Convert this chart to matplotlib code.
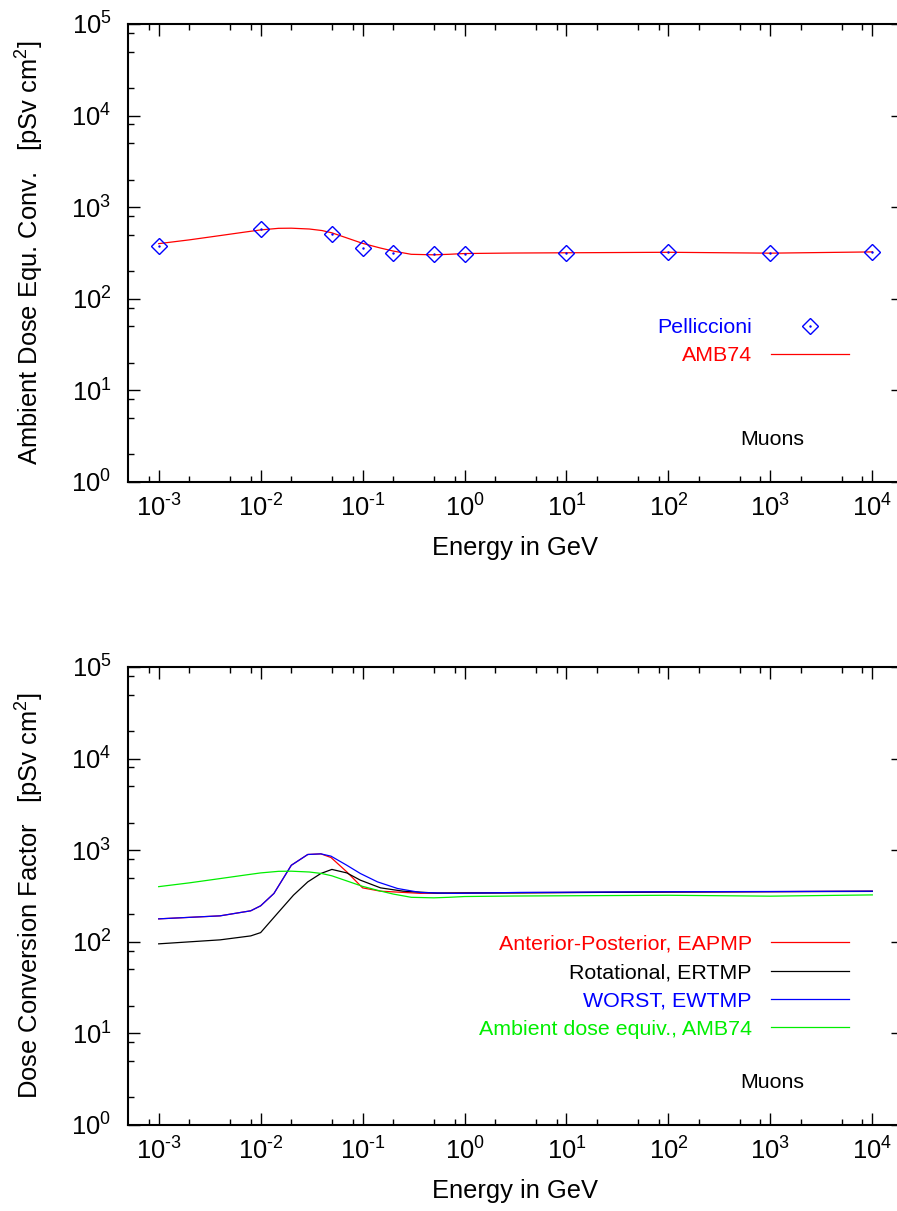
import numpy as np
import matplotlib
matplotlib.use('Agg')
import matplotlib.pyplot as plt
from matplotlib.ticker import FixedLocator, NullFormatter, FuncFormatter

plt.rcParams['font.family'] = ['Liberation Sans', 'DejaVu Sans']
plt.rcParams['mathtext.fontset'] = 'custom'
plt.rcParams['mathtext.rm'] = 'Liberation Sans'
plt.rcParams['mathtext.it'] = 'Liberation Sans:italic'
plt.rcParams['mathtext.default'] = 'regular'

# Pellicioni reference points (GeV, pSv cm2)
pell_e = [1e-3, 1e-2, 5e-2, 1e-1, 2e-1, 5e-1, 1, 10, 100, 1000, 10000]
pell_h = [378, 572, 509, 357, 319, 306, 311, 317, 325, 314, 325]

# AMB74 ambient dose equivalent
amb_e = [1e-3, 2e-3, 4e-3, 7e-3, 1e-2, 1.5e-2, 2e-2, 3e-2, 4e-2, 5e-2, 7e-2, 1e-1,
         1.5e-1, 2e-1, 3e-1, 5e-1, 7e-1, 1, 3, 10, 100, 1000, 1e4]
amb_h = [400, 440, 490, 535, 565, 588, 590, 578, 556, 525, 462, 403,
         358, 332, 306, 302, 306, 312, 316, 318, 322, 315, 325]

# Anterior-Posterior, EAPMP
ap_e = [1e-3, 4e-3, 8e-3, 1e-2, 1.35e-2, 2e-2, 2.9e-2, 3.9e-2, 4.9e-2, 7e-2, 1e-1,
        1.5e-1, 3.7e-1, 1, 10, 100, 1000, 1e4]
ap_h = [178, 192, 218, 247, 337, 685, 898, 912, 832, 580, 388,
        357, 338, 342, 346, 350, 353, 357]

# WORST, EWTMP
wt_e = [1e-3, 4e-3, 8e-3, 1e-2, 1.35e-2, 2e-2, 2.9e-2, 3.9e-2, 4.9e-2, 7e-2, 9.5e-2,
        1.4e-1, 2.2e-1, 3.7e-1, 7.9e-1, 3.5, 100, 1000, 1e4]
wt_h = [178, 192, 218, 247, 337, 685, 898, 912, 861, 685, 557,
        451, 382, 345, 338, 346, 352, 354, 357]

# Rotational, ERTMP
rt_e = [1e-3, 4e-3, 8e-3, 1e-2, 1.46e-2, 2.1e-2, 2.9e-2, 3.9e-2, 5e-2, 7e-2, 9.5e-2,
        1.5e-1, 2.5e-1, 5.4e-1, 3.5, 100, 1e4]
rt_h = [95, 105, 116, 126, 204, 323, 451, 557, 617, 565, 471,
        388, 357, 340, 342, 350, 355]

# tick decades
x_dec = [-3, -2, -1, 0, 1, 2, 3, 4]
y_dec = [0, 1, 2, 3, 4, 5]

big = 18.4
small = 15.4

fig = plt.figure(figsize=(8.97, 12.11), dpi=100)
W, H = 897.0, 1211.0
ax1 = fig.add_axes([128 / W, 1 - 482 / H, 775 / W, 458 / H])
ax2 = fig.add_axes([128 / W, 1 - 1125 / H, 775 / W, 458 / H])


def pow10(v, pos):
    e = int(round(np.log10(v)))
    return r'$10^{\text{%d}}$' % e


def minors(lo, hi):
    out = []
    for d in range(lo, hi):
        for m in (2, 5, 8):
            out.append(m * 10.0 ** d)
    return out


def style(ax, ylab):
    ax.set_xscale('log')
    ax.set_yscale('log')
    ax.set_xlim(5e-4, 2e4)
    ax.set_ylim(1, 1e5)
    ax.xaxis.set_major_locator(FixedLocator([10.0 ** d for d in x_dec]))
    ax.xaxis.set_minor_locator(FixedLocator([v for v in minors(-4, 5) if 5e-4 < v < 2e4]))
    ax.yaxis.set_major_locator(FixedLocator([10.0 ** d for d in y_dec]))
    ax.yaxis.set_minor_locator(FixedLocator(minors(0, 5)))
    ax.xaxis.set_major_formatter(FuncFormatter(pow10))
    ax.yaxis.set_major_formatter(FuncFormatter(pow10))
    ax.xaxis.set_minor_formatter(NullFormatter())
    ax.yaxis.set_minor_formatter(NullFormatter())
    ax.tick_params(which='both', direction='in', top=True, right=True, width=1.0)
    ax.tick_params(which='major', length=8.5, labelsize=big)
    ax.tick_params(which='minor', length=4.3)
    ax.tick_params(axis='y', pad=12)
    ax.tick_params(axis='x', pad=9)
    for s in ax.spines.values():
        s.set_linewidth(1.5)
    ax.spines['right'].set_visible(False)
    ax.set_xlabel('Energy in GeV', fontsize=big, labelpad=10)
    ax.set_ylabel(ylab, fontsize=big, labelpad=18)
    ax.text(0.79, 0.092, 'Muons', transform=ax.transAxes, fontsize=small,
            va='center', ha='left')


leg_kw = dict(loc='upper right', markerfirst=False, frameon=False, fontsize=small,
              handlelength=3.65, handletextpad=0.9, labelspacing=0.43,
              borderpad=0, borderaxespad=0)

# top panel
style(ax1, 'Ambient Dose Equ. Conv.   [pSv cm$^2$]')
amb_line, = ax1.plot(amb_e, amb_h, color='red', lw=0.9)
pd_ = ax1.plot(pell_e, pell_h, ls='none', marker='D', ms=8.4, mfc='none',
               mec='blue', mew=1.0)[0]
pdot = ax1.plot(pell_e, pell_h, ls='none', marker='.', ms=1.5, color='blue')[0]
leg1 = ax1.legend([(pd_, pdot), amb_line], ['Pelliccioni', 'AMB74'],
                  bbox_to_anchor=(0.9307, 0.358), **leg_kw)
for t, c in zip(leg1.get_texts(), ['blue', 'red']):
    t.set_color(c)

# bottom panel
style(ax2, 'Dose Conversion Factor   [pSv cm$^2$]')
l_ap, = ax2.plot(ap_e, ap_h, color='red', lw=0.9)
l_rt, = ax2.plot(rt_e, rt_h, color='black', lw=0.9)
l_wt, = ax2.plot(wt_e, wt_h, color='blue', lw=0.9)
l_amb, = ax2.plot(amb_e, amb_h, color='#00ee00', lw=0.9)
leg2 = ax2.legend([l_ap, l_rt, l_wt, l_amb],
                  ['Anterior-Posterior, EAPMP', 'Rotational, ERTMP',
                   'WORST, EWTMP', 'Ambient dose equiv., AMB74'],
                  bbox_to_anchor=(0.9307, 0.415), **leg_kw)
for t, c in zip(leg2.get_texts(), ['red', 'black', 'blue', '#00ee00']):
    t.set_color(c)

fig.savefig('out.png', dpi=100)
